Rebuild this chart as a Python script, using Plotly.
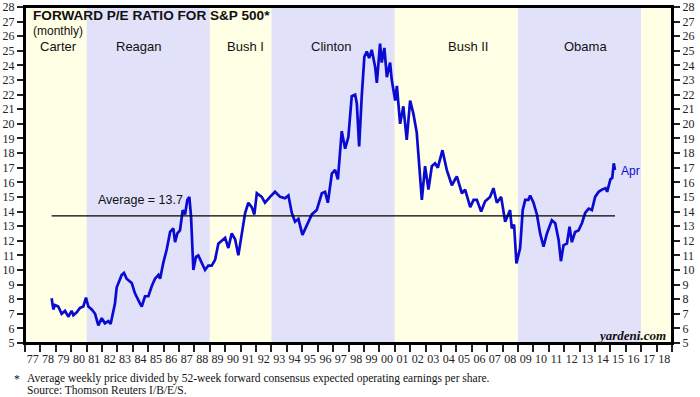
import plotly.graph_objects as go
from datetime import datetime, timedelta

# ---- data (decimal year, forward P/E) ----
pe_years = [
    1978.73, 1978.84, 1978.95, 1979.16, 1979.38, 1979.60, 1979.81, 1980.03, 1980.14, 1980.36,
    1980.57, 1980.79, 1980.96, 1981.11, 1981.33, 1981.55, 1981.76, 1981.98, 1982.19, 1982.41,
    1982.56, 1982.73, 1982.84, 1982.95, 1983.28, 1983.43, 1983.60, 1983.93, 1984.14, 1984.47,
    1984.58, 1984.79, 1985.01, 1985.23, 1985.44, 1985.66, 1985.77, 1985.98, 1986.20, 1986.42,
    1986.63, 1986.74, 1986.89, 1987.06, 1987.24, 1987.39, 1987.54, 1987.67, 1987.78, 1987.93,
    1988.10, 1988.25, 1988.47, 1988.69, 1988.90, 1989.12, 1989.34, 1989.55, 1989.99, 1990.20,
    1990.42, 1990.64, 1990.85, 1990.96, 1991.29, 1991.50, 1991.72, 1991.89, 1992.05, 1992.37,
    1992.58, 1992.91, 1993.23, 1993.56, 1993.88, 1994.10, 1994.32, 1994.53, 1994.75, 1995.01,
    1995.29, 1995.62, 1995.94, 1996.27, 1996.48, 1996.66, 1996.92, 1997.13, 1997.31, 1997.56,
    1997.78, 1997.99, 1998.21, 1998.43, 1998.54, 1998.69, 1998.86, 1999.03, 1999.19, 1999.34,
    1999.51, 1999.73, 1999.84, 2000.05, 2000.16, 2000.33, 2000.49, 2000.70, 2000.81, 2001.03,
    2001.14, 2001.35, 2001.56, 2001.78, 2002.00, 2002.21, 2002.43, 2002.65, 2002.76, 2002.97,
    2003.19, 2003.41, 2003.62, 2003.80, 2003.95, 2004.10, 2004.38, 2004.71, 2005.03, 2005.36,
    2005.57, 2005.90, 2006.12, 2006.33, 2006.61, 2006.87, 2007.19, 2007.41, 2007.63, 2007.91,
    2008.17, 2008.49, 2008.60, 2008.75, 2008.90, 2009.14, 2009.31, 2009.47, 2009.68, 2009.79,
    2010.01, 2010.23, 2010.44, 2010.66, 2010.88, 2011.20, 2011.42, 2011.64, 2011.79, 2011.96,
    2012.18, 2012.35, 2012.50, 2012.71, 2012.93, 2013.15, 2013.36, 2013.59, 2013.80, 2014.01,
    2014.24, 2014.45, 2014.68, 2014.79, 2015.00, 2015.12, 2015.22, 2015.30,
]
pe_values = [
    8.06, 7.3, 7.6, 7.5, 7.0, 7.2, 6.8, 7.2, 6.9, 7.1,
    7.4, 7.5, 8.1, 7.5, 7.3, 7.0, 6.2, 6.7, 6.35, 6.5,
    6.3, 7.1, 7.7, 8.8, 9.66, 9.8, 9.4, 9.1, 8.4, 7.7,
    7.5, 8.2, 8.2, 8.9, 9.4, 9.66, 9.4, 10.5, 11.4, 12.6,
    12.85, 11.9, 12.5, 12.7, 14.1, 13.8, 14.8, 15.0, 13.65, 10.0,
    10.9, 11.0, 10.5, 10.0, 10.3, 10.3, 10.7, 11.8, 12.2, 11.5,
    12.5, 12.1, 11.0, 11.8, 13.9, 14.6, 14.3, 13.8, 15.25, 15.0,
    14.6, 15.0, 15.35, 15.0, 14.9, 15.1, 13.9, 13.3, 13.5, 12.4,
    13.0, 13.8, 14.1, 15.25, 15.35, 14.6, 16.6, 16.85, 16.2, 19.5,
    18.3, 19.1, 21.9, 22.0, 21.4, 18.45, 21.9, 24.6, 24.95, 24.5,
    25.07, 23.9, 22.8, 25.5, 24.2, 25.2, 23.2, 24.2, 23.0, 21.6,
    22.6, 20.0, 21.2, 18.9, 21.6, 20.7, 19.4, 16.2, 14.8, 17.1,
    15.5, 17.1, 17.3, 17.0, 17.65, 18.2, 16.85, 15.8, 16.4, 15.25,
    15.5, 14.3, 14.8, 14.8, 14.0, 14.7, 15.0, 15.6, 14.6, 15.0,
    13.3, 14.1, 12.85, 13.1, 10.45, 11.5, 14.1, 14.8, 14.8, 15.1,
    14.6, 13.8, 12.5, 11.6, 12.5, 13.4, 13.2, 12.05, 10.6, 11.7,
    11.8, 12.96, 11.9, 12.6, 12.7, 13.2, 13.9, 14.2, 14.1, 15.0,
    15.35, 15.5, 15.6, 15.35, 16.2, 16.3, 17.3, 16.85,
]
average_value = 13.7

president_names = ["Carter", "Reagan", "Bush I", "Clinton", "Bush II", "Obama", ""]
president_start = [1977, 1981, 1989, 1993, 2001, 2009, 2017]
president_end = [1981, 1989, 1993, 2001, 2009, 2017, 2019]

y_ticks = list(range(5, 29))


def to_date(y):
    yr = int(y)
    return datetime(yr, 1, 1) + timedelta(days=(y - yr) * 365.25)


dates = [to_date(y) for y in pe_years]

# ---- layout geometry ----
W, H = 700, 397
L, R, T, B = 25, 28, 7, 54
PW = W - L - R
PH = H - T - B


def px(x):
    return (x - L) / PW


def py(y):
    return 1 - (y - T) / PH


YELLOW = "#FFFFE6"
BLUE = "#E1E1FA"
LINE = "#0A0AD2"
SERIF = "Liberation Serif"
SANS = "Liberation Sans"

fig = go.Figure()

fig.add_trace(go.Scatter(
    x=[dates[0], dates[-1]], y=[average_value, average_value],
    mode="lines", line=dict(color="black", width=1.2),
    yaxis="y2", showlegend=False, hoverinfo="skip"))

fig.add_trace(go.Scatter(
    x=dates, y=pe_values, mode="lines",
    line=dict(color=LINE, width=2.7), showlegend=False))

shapes = []
for i, (s, e) in enumerate(zip(president_start, president_end)):
    shapes.append(dict(type="rect", xref="x", yref="paper",
                       x0=datetime(s, 1, 1), x1=datetime(e, 1, 1), y0=0, y1=1,
                       fillcolor=YELLOW if i % 2 == 0 else BLUE,
                       line=dict(width=0), layer="below"))
# plot frame
shapes.append(dict(type="rect", xref="paper", yref="paper", x0=0, x1=1, y0=0, y1=1,
                   line=dict(color="black", width=2), fillcolor="rgba(0,0,0,0)",
                   layer="above"))

annotations = []
label_px = [58, 139, 245, 331, 468, 585]
for name, lx in zip(president_names, label_px):
    annotations.append(dict(text=name, x=px(lx), y=py(46),
                            xanchor="center", yanchor="middle",
                            font=dict(family=SANS, size=13, color="#111")))

annotations += [
    dict(text="<b>FORWARD P/E RATIO FOR S&P 500*</b>", x=px(31), y=py(15),
         xanchor="left", yanchor="middle", font=dict(family=SANS, size=13.6, color="#111")),
    dict(text="(monthly)", x=px(31), y=py(31), xanchor="left", yanchor="middle",
         font=dict(family=SANS, size=12, color="#111")),
    dict(text=f"Average = {average_value}", x=px(96), y=py(200), xanchor="left",
         yanchor="middle", font=dict(family=SANS, size=12.5, color="#111")),
    dict(text="Apr", x=px(619), y=py(171), xanchor="left", yanchor="middle",
         font=dict(family=SANS, size=12, color=LINE)),
    dict(text="<b><i>yardeni.com</i></b>", x=px(668), y=py(335), xanchor="right",
         yanchor="middle", font=dict(family=SERIF, size=13, color="#111")),
    dict(text="*", x=px(12), y=py(379), xanchor="left", yanchor="middle",
         font=dict(family=SERIF, size=11.5, color="#111")),
    dict(text="Average weekly price divided by 52-week forward consensus expected operating earnings per share.",
         x=px(25), y=py(378), xanchor="left", yanchor="middle",
         font=dict(family=SERIF, size=11.5, color="#111")),
    dict(text="Source: Thomson Reuters I/B/E/S.", x=px(25), y=py(390),
         xanchor="left", yanchor="middle", font=dict(family=SERIF, size=11.5, color="#111")),
]
for a in annotations:
    a.setdefault("xref", "paper")
    a.setdefault("yref", "paper")
    a.setdefault("showarrow", False)

yax = dict(range=[5, 28], tickvals=y_ticks, ticks="outside", ticklen=6, tickwidth=1.5,
           tickcolor="#222", showgrid=False, zeroline=False, showline=True,
           linecolor="black", linewidth=2, fixedrange=True, automargin=False,
           tickfont=dict(family=SERIF, size=12, color="#222"))

fig.update_layout(
    width=W, height=H,
    margin=dict(l=L, r=R, t=T, b=B, pad=0, autoexpand=False),
    paper_bgcolor="white", plot_bgcolor="white",
    shapes=shapes, annotations=annotations,
    xaxis=dict(type="date", range=[datetime(1977, 1, 1), datetime(2019, 1, 1)],
               tick0="1977-01-01", dtick="M12", tickformat="%y", ticklabelmode="period",
               ticks="outside", ticklen=7, tickwidth=1.5, tickcolor="#222",
               showgrid=False, zeroline=False, showline=True, linecolor="black",
               linewidth=2, mirror=True, ticklabelstandoff=-3, automargin=False,
               fixedrange=True, tickfont=dict(family=SERIF, size=12, color="#222")),
    yaxis=dict(side="left", **yax),
    yaxis2=dict(side="right", overlaying="y", matches="y", **yax),
    showlegend=False,
)

fig.write_html("out.html", config={"displayModeBar": False},
               post_script="document.body.style.margin='0';document.body.style.padding='0';")
